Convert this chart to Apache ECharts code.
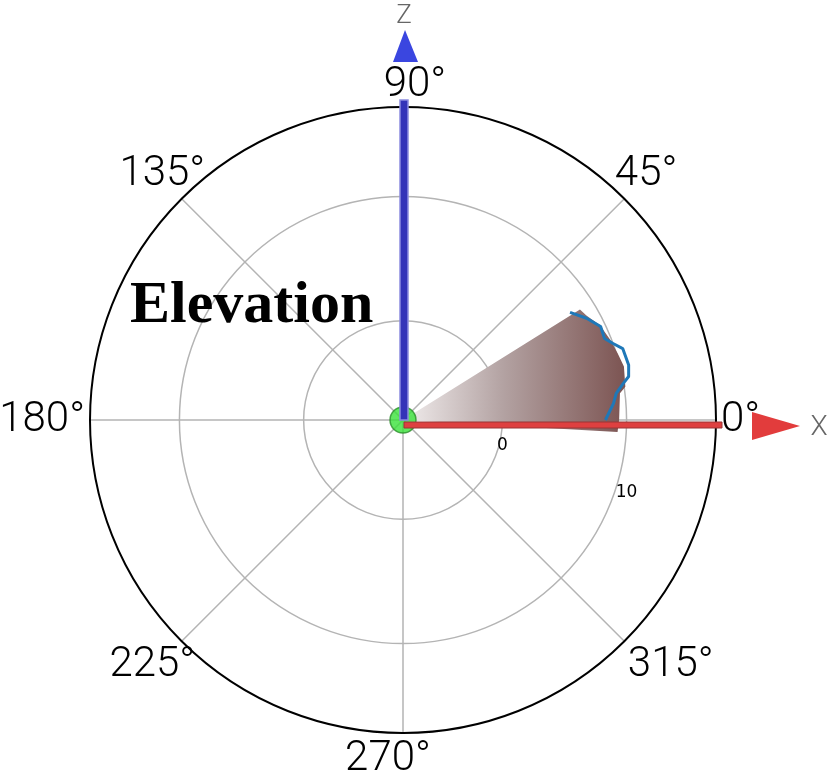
<!DOCTYPE html>
<html>
<head>
<meta charset="utf-8">
<script src="https://cdn.jsdelivr.net/npm/echarts@6/dist/echarts.min.js"></script>
<style>
  html, body { margin: 0; padding: 0; background: #fff; }
  #chart { width: 831px; height: 781px; }
</style>
</head>
<body>
<div id="chart"></div>
<script>
// angle ticks (degrees) and radial ticks
const angleTicks = [0, 45, 90, 135, 180, 225, 270, 315]
const radiusTicks = [0, 10]
const radiusMin = -8
const radiusMax = 17.2

// measured pattern (blue curve): angle in degrees, value on the radial scale
const patternAngles = [0, 4.5, 7.1, 9.5, 10.9, 13.7, 18.0, 20.0, 22.0, 25.3, 29.0, 32.8]
const patternValues = [8.3, 9.0, 9.3, 10.0, 10.5, 10.7, 10.6, 10.0, 9.5, 9.6, 8.9, 8.0]

// shaded sector outline
const wedgeAngles = [-3.2, 0, 7.0, 8.5, 13.6, 17.2, 21.1, 25.7, 29.7, 32.0]
const wedgeValues = [9.3, 9.4, 9.6, 10.1, 10.3, 10.1, 9.9, 9.6, 9.0, 8.8]

const originPoint = [[radiusMin, 0]]

const cx = 403
const cy = 420
const R = 313

const labelFont = 'Roboto, "DejaVu Sans Condensed", sans-serif'
const angleLabel = { fontSize: 42, fontWeight: 300, fontFamily: labelFont, color: '#000' }
const radiusLabel = { fontSize: 17, color: '#000', fontFamily: 'DejaVu Sans, sans-serif' }

// small padding tweaks so the angle labels sit like in the original
const angleRich = {
  a0: angleLabel,
  a45: { ...angleLabel, padding: [0, 0, 0, -13] },
  a90: { ...angleLabel, padding: [0, 0, -4, 24] },
  a135: { ...angleLabel, padding: [0, -27, 0, 0] },
  a180: angleLabel,
  a225: { ...angleLabel, padding: [0, -17, 0, 0] },
  a270: { ...angleLabel, padding: [0, 30, 0, 0] },
  a315: angleLabel
}

const chart = echarts.init(document.getElementById('chart'))

chart.setOption({
  animation: false,
  polar: { center: [cx, cy], radius: R },
  angleAxis: {
    type: 'value',
    min: 0,
    max: 360,
    interval: 45,
    startAngle: 0,
    clockwise: false,
    axisLine: { lineStyle: { color: '#000', width: 2 } },
    axisTick: { show: false },
    axisLabel: {
      margin: 5,
      formatter: (v) => {
        v = +v
        if (!angleTicks.includes(v)) return ''
        return '{a' + v + '|' + v + '°}'
      },
      rich: angleRich
    },
    splitLine: { lineStyle: { color: '#b4b4b4', width: 1.5 } }
  },
  radiusAxis: {
    type: 'value',
    min: radiusMin,
    max: radiusMax,
    axisLine: { show: false },
    axisTick: { show: false, customValues: radiusTicks },
    axisLabel: {
      customValues: radiusTicks,
      showMinLabel: true,
      showMaxLabel: true,
      margin: -17,
      align: 'center',
      verticalAlign: 'top',
      formatter: (v) => +v === 10 ? '{far|10}' : '{near|' + v + '}',
      rich: {
        near: radiusLabel,
        far: { ...radiusLabel, padding: [47, 0, 0, 0] }
      }
    },
    splitLine: { show: true, lineStyle: { color: '#b4b4b4', width: 1.5 } }
  },
  graphic: [
    {
      type: 'text', z: 20, left: 130, top: 276,
      style: { text: 'Elevation', fill: '#000', font: 'bold 60px "Liberation Serif", "Times New Roman", serif' }
    },
    // Z axis indicator
    {
      type: 'rect', z: 20,
      shape: { x: cx - 3, y: cy - R - 7, width: 8, height: R + 7 },
      style: { fill: '#3434b8', stroke: '#8c8ce0', lineWidth: 1.5 }
    },
    {
      type: 'polygon', z: 20,
      shape: { points: [[cx + 2, 30], [cx - 10, 62], [cx + 15, 62]] },
      style: { fill: '#3a46e0' }
    },
    {
      type: 'text', z: 20, x: cx + 1, y: 16,
      style: { text: 'Z', fill: '#666', fontSize: 26, fontWeight: 300, fontFamily: labelFont, align: 'center', verticalAlign: 'middle' }
    },
    // X axis indicator
    {
      type: 'rect', z: 20,
      shape: { x: cx + 1, y: cy + 2, width: R + 5, height: 6 },
      style: { fill: '#de4040', stroke: '#9a3434', lineWidth: 1 }
    },
    {
      type: 'polygon', z: 20,
      shape: { points: [[752, 412], [752, 440], [800, 426]] },
      style: { fill: '#e23c3c' }
    },
    {
      type: 'text', z: 20, x: 819, y: 428,
      style: { text: 'X', fill: '#666', fontSize: 28, fontWeight: 300, fontFamily: labelFont, align: 'center', verticalAlign: 'middle' }
    }
  ],
  series: [
    {
      type: 'line',
      coordinateSystem: 'polar',
      data: wedgeAngles.map((a, i) => [wedgeValues[i], a]),
      symbol: 'none',
      silent: true,
      z: 2,
      lineStyle: { width: 0 },
      areaStyle: {
        origin: 'start',
        opacity: 1,
        color: {
          type: 'linear', x: 0, y: 0, x2: 1, y2: 0,
          colorStops: [
            { offset: 0, color: '#f1eded' },
            { offset: 0.45, color: '#b3a2a2' },
            { offset: 1, color: '#7c5452' }
          ]
        }
      }
    },
    {
      type: 'line',
      coordinateSystem: 'polar',
      data: patternAngles.map((a, i) => [patternValues[i], a]),
      symbol: 'none',
      z: 3,
      lineStyle: { color: '#1f78b8', width: 3 }
    },
    {
      type: 'scatter',
      coordinateSystem: 'polar',
      data: originPoint,
      symbol: 'circle',
      symbolSize: 26,
      clip: false,
      z: 4,
      itemStyle: { color: '#3ae23a', borderColor: '#2a8f2a', borderWidth: 1.5 }
    }
  ]
})
</script>
</body>
</html>
